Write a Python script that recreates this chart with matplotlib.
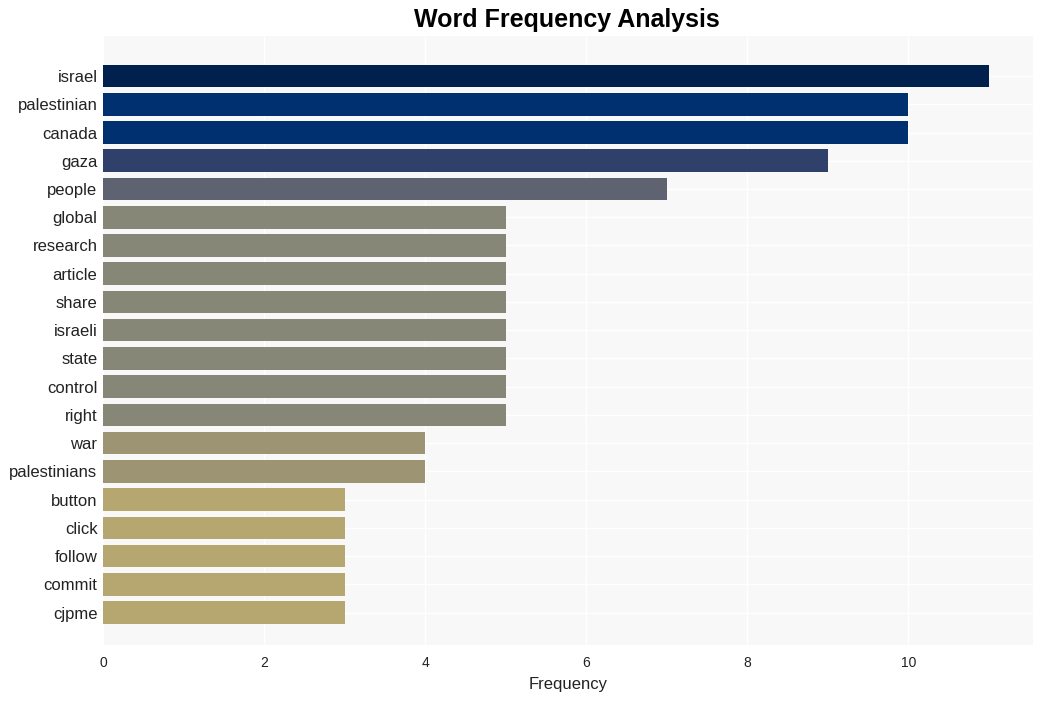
import matplotlib
matplotlib.use("Agg")
import matplotlib.pyplot as plt

plt.rcParams['font.family'] = ['Liberation Sans', 'DejaVu Sans']

words = ["israel", "palestinian", "canada", "gaza", "people", "global", "research",
         "article", "share", "israeli", "state", "control", "right", "war",
         "palestinians", "button", "click", "follow", "commit", "cjpme"]
counts = [11, 10, 10, 9, 7, 5, 5, 5, 5, 5, 5, 5, 5, 4, 4, 3, 3, 3, 3, 3]
color_by_count = {11: "#00214e", 10: "#00306f", 9: "#2f416b", 7: "#5f6271",
                  5: "#878777", 4: "#9d9473", 3: "#b5a76f"}

fig = plt.figure(figsize=(10.42, 7.01), dpi=100)
ax = fig.add_axes([103/1042, 1 - 645/701, (1033-103)/1042, (645-36)/701])
ax.set_facecolor("#f8f8f8")
ypos = list(range(len(words)))
ax.barh(ypos, counts, height=0.8, color=[color_by_count[c] for c in counts], zorder=2)
ax.set_yticks(ypos)
ax.set_yticklabels(words, fontsize=12, color="#222222")
ax.set_ylim(len(words) - 1 + 1.15, -1.42)
ax.set_xlim(0, 11.55)
ax.set_xticks([0, 2, 4, 6, 8, 10])
ax.tick_params(axis="x", labelsize=10, colors="#222222", length=0, pad=8)
ax.tick_params(axis="y", length=0, pad=4)
ax.grid(True, color="white", linewidth=1, zorder=0)
ax.set_axisbelow(True)
for s in ax.spines.values():
    s.set_visible(False)
ax.set_xlabel("Frequency", fontsize=12, color="#222222", labelpad=5)
fig.text(567/1042, 1 - 20/701, "Word Frequency Analysis", ha="center", va="center",
         fontsize=18, fontweight="bold")
fig.savefig("out.png", dpi=100)
